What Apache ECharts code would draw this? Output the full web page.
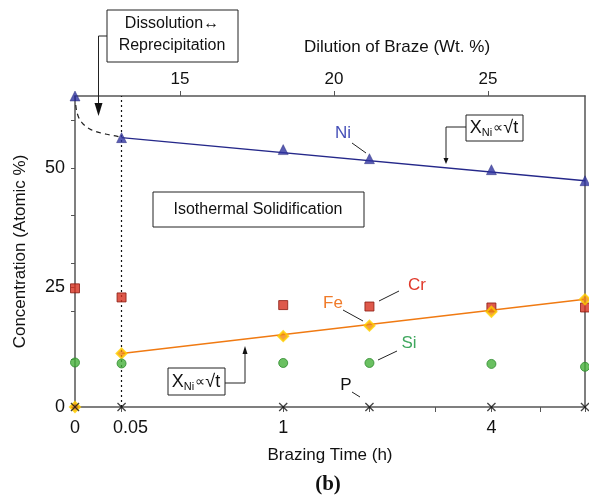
<!DOCTYPE html>
<html>
<head>
<meta charset="utf-8">
<script src="https://cdn.jsdelivr.net/npm/echarts@6/dist/echarts.min.js"></script>
<style>
html,body{margin:0;padding:0;background:#fff}
#chart{width:589px;height:499px}
</style>
</head>
<body>
<div id="chart"></div>
<script>
// brazing time (h) and concentrations (at.%)
var times = [0, 0.05, 1, 2, 4, 6];
var ni = [65, 56.3, 53.8, 51.9, 49.6, 47.3];
var cr = [24.8, 22.9, 21.3, 21.0, 20.8, 20.8];
var fe = [0, 11.2, 14.8, 17.0, 19.9, 22.5];
var si = [9.3, 9.1, 9.2, 9.2, 9.0, 8.4];
var p = [0, 0, 0, 0, 0, 0];
// straight fits (linear in sqrt t)
var fitTimes = [0.05, 6];
var niFit = [56.3, 47.3];
var feFit = [11.2, 22.5];
// dashed dissolution curve [t, at.%]
var dissolution = [[0, 65], [0.00005, 62.0], [0.0004, 60.3], [0.0016, 59.1], [0.005, 58.1], [0.011, 57.5], [0.023, 57.0], [0.04, 56.6], [0.05, 56.3]];
// ticks
var timeLabels = [0, 0.05, 1, 4];
var timeTicks = [0.05, 1, 2, 3, 4, 5, 6];
var yLabels = [0, 25, 50];
var yTicks = [0, 10, 20, 25, 30, 40, 50, 60];
var dilutionLabels = [15, 20, 25];

var sq = function (t) { return Math.sqrt(t); };
function pts(xs, ys) {
    return xs.map(function (t, i) { return [sq(t), ys[i]]; });
}
var FONT = 'Liberation Sans, Arial, sans-serif';
var AX = '#555';

var mychart = echarts.init(document.getElementById('chart'));

function box(x, y, w, h) {
    return {type: 'rect', shape: {x: x, y: y, width: w, height: h},
        style: {fill: '#fff', stroke: '#222', lineWidth: 1}, z: 10};
}
function txt(x, y, s, color, size, extra) {
    var st = {text: s, x: x, y: y, fill: color || '#111',
        font: (size || 17) + 'px ' + FONT,
        textAlign: 'center', textVerticalAlign: 'middle', align: 'center', verticalAlign: 'middle'};
    if (extra) { for (var k in extra) st[k] = extra[k]; }
    return {type: 'text', style: st, z: 11};
}
function line(points) {
    return {type: 'polyline', shape: {points: points},
        style: {stroke: '#222', lineWidth: 1, fill: null}, z: 10};
}
function head(points) {
    return {type: 'polygon', shape: {points: points}, style: {fill: '#111'}, z: 10};
}
var propRich = {
    x: {font: '18px ' + FONT, fill: '#111'},
    sub: {font: '11px ' + FONT, fill: '#111', padding: [9, 1, 0, 0]},
    pr: {font: '14px ' + FONT, fill: '#111'},
    t: {font: '18px ' + FONT, fill: '#111'}
};
var propText = '{x|X}{sub|Ni}{pr|\u221d}{t|\u221at}';

var option = {
    animation: false,
    grid: {left: 75, right: 4, top: 96, bottom: 92, containLabel: false, outerBoundsMode: 'none'},
    xAxis: [{
        type: 'value', position: 'bottom', min: 0, max: sq(6),
        name: 'Brazing Time (h)', nameLocation: 'middle', nameGap: 40,
        nameTextStyle: {fontSize: 17, fontFamily: FONT, color: '#111'},
        axisLine: {onZero: false, lineStyle: {color: AX, width: 1.5}},
        axisTick: {customValues: timeTicks.map(sq), length: 5, lineStyle: {color: AX}},
        axisLabel: {customValues: timeLabels.map(sq), margin: 12,
            fontSize: 18, fontFamily: FONT, color: '#111',
            formatter: function (v) {
                var t = Math.round(v * v * 100) / 100;
                return t === 0.05 ? '{o|0.05}' : String(t);
            },
            rich: {o: {fontSize: 18, fontFamily: FONT, color: '#111', padding: [0, 0, 0, 18]}}},
        splitLine: {show: false}
    }, {
        type: 'value', position: 'top', min: 11.59, max: 28.15,
        name: 'Dilution of Braze (Wt. %)', nameLocation: 'middle', nameGap: 40,
        nameTextStyle: {fontSize: 17, fontFamily: FONT, color: '#111', padding: [0, 0, 0, 134]},
        axisLine: {show: true, onZero: false, lineStyle: {color: AX, width: 1.5}},
        axisTick: {customValues: dilutionLabels, length: 5, lineStyle: {color: AX}},
        axisLabel: {customValues: dilutionLabels, margin: 8,
            fontSize: 17, fontFamily: FONT, color: '#111'},
        splitLine: {show: false}
    }],
    yAxis: [{
        type: 'value', min: 0, max: 65,
        name: 'Concentration (Atomic %)', nameLocation: 'middle', nameGap: 46,
        nameTextStyle: {fontSize: 17, fontFamily: FONT, color: '#111'},
        axisLine: {show: true, onZero: false, lineStyle: {color: AX, width: 1.5}},
        axisTick: {show: true, customValues: yTicks, length: 4, lineStyle: {color: AX}},
        axisLabel: {customValues: yLabels, margin: 10,
            fontSize: 18, fontFamily: FONT, color: '#111'},
        splitLine: {show: false}
    }, {
        type: 'value', min: 0, max: 65, position: 'right',
        axisLine: {show: true, onZero: false, lineStyle: {color: AX, width: 1.5}},
        axisTick: {show: false}, axisLabel: {show: false}, splitLine: {show: false}
    }],
    series: [
        {
            name: 'dissolution', type: 'line', smooth: 0.3, symbol: 'none',
            data: pts(dissolution.map(function (d) { return d[0]; }), dissolution.map(function (d) { return d[1]; })),
            lineStyle: {color: '#222', width: 1.2, type: [5, 4]}, z: 2,
            markLine: {
                silent: true, symbol: 'none', label: {show: false},
                lineStyle: {color: '#111', width: 1.2, type: [2, 3]},
                data: [{xAxis: sq(0.05)}]
            }
        },
        {name: 'Ni fit', type: 'line', symbol: 'none', data: pts(fitTimes, niFit),
            lineStyle: {color: '#25288a', width: 1.5}, z: 3},
        {name: 'Fe fit', type: 'line', symbol: 'none', data: pts(fitTimes, feFit),
            lineStyle: {color: '#f07a12', width: 1.5}, z: 3},
        {name: 'Ni', type: 'scatter', symbol: 'triangle', symbolSize: 10,
            data: pts(times, ni), itemStyle: {color: '#2f33a0', borderColor: '#1c1e70', borderWidth: 0.5}, z: 5},
        {name: 'Cr', type: 'scatter', symbol: 'rect', symbolSize: 9,
            data: pts(times, cr), itemStyle: {color: '#d6301e', borderColor: '#8a1a10', borderWidth: 1}, z: 5},
        {name: 'Fe', type: 'scatter', symbol: 'diamond', symbolSize: 10,
            data: pts(times, fe), itemStyle: {color: '#f08a10', borderColor: '#ffd000', borderWidth: 2}, z: 5},
        {name: 'Si', type: 'scatter', symbol: 'circle', symbolSize: 9,
            data: pts(times, si), itemStyle: {color: '#45b03a', borderColor: '#2d8a2d', borderWidth: 1}, z: 5},
        {name: 'P', type: 'scatter', symbolSize: 9,
            symbol: 'path://M0,1L1,0L5,4L9,0L10,1L6,5L10,9L9,10L5,6L1,10L0,9L4,5Z',
            data: pts(times, p), itemStyle: {color: '#111'}, z: 6, clip: false}
    ],
    graphic: [
        // Dissolution <-> Reprecipitation
        box(107, 10, 131, 52),
        txt(172, 24, 'Dissolution\u2194', '#111', 16),
        txt(172, 46, 'Reprecipitation', '#111', 16),
        line([[107, 36], [98.5, 36], [98.5, 104]]),
        head([[94.5, 103], [102.5, 103], [98.5, 116]]),
        // Isothermal Solidification
        box(153, 192, 211, 35),
        txt(258, 210, 'Isothermal Solidification', '#111', 16),
        // upper X_Ni box
        box(466, 115, 57, 26),
        txt(494, 128, propText, '#111', 17, {rich: propRich}),
        line([[466, 127], [446, 127], [446, 160]]),
        head([[443.5, 158], [448.5, 158], [446, 164]]),
        // lower X_Ni box
        box(168, 368, 57, 27),
        txt(196, 382, propText, '#111', 17, {rich: propRich}),
        line([[225, 383], [245, 383], [245, 352]]),
        head([[242.5, 354], [247.5, 354], [245, 346]]),
        // element labels
        txt(343, 133, 'Ni', '#4650b8', 17),
        line([[352, 143], [366, 153]]),
        txt(417, 285, 'Cr', '#e0382a', 17),
        line([[379, 301], [399, 291]]),
        txt(333, 303, 'Fe', '#f07b2a', 17),
        line([[343, 310], [363, 321]]),
        txt(409, 343, 'Si', '#3fa75e', 17),
        line([[378, 360], [397, 351]]),
        txt(346, 385, 'P', '#111', 17),
        line([[352, 392], [360, 397]]),
        // panel label
        txt(328, 485, '(b)', '#111', 20, {font: 'bold 21px Liberation Serif, serif'})
    ]
};
mychart.setOption(option);
</script>
</body>
</html>
